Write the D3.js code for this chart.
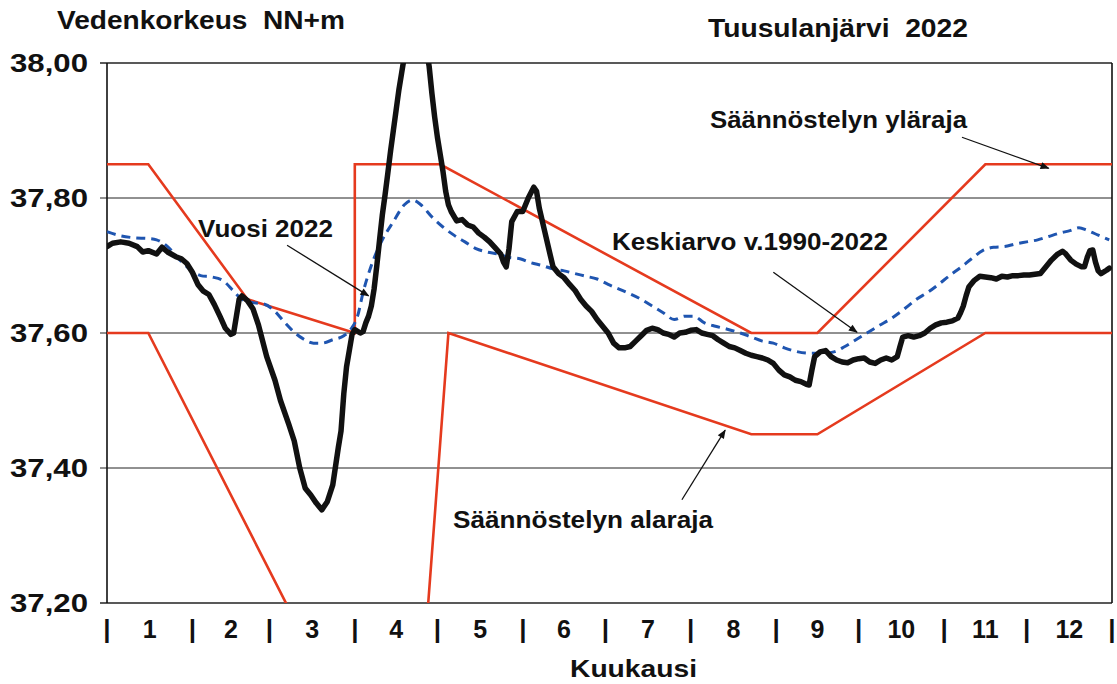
<!DOCTYPE html>
<html><head><meta charset="utf-8">
<script src="https://cdn.jsdelivr.net/npm/d3@7"></script>
<style>
body{margin:0;background:#fff}
svg{display:block}
text{font-family:"Liberation Sans",Arial,sans-serif;font-weight:bold;fill:#111;white-space:pre}
</style>
</head><body>
<svg id="c" width="1117" height="684"></svg>
<script>
// ---------------- data ----------------
const monthLabels = ["1","2","3","4","5","6","7","8","9","10","11","12"];
const monthStartDays = [0,31,59,90,120,151,181,212,243,273,304,334,365];
const yTicks = [38.00, 37.80, 37.60, 37.40, 37.20];

// regulation limits [day of year, NN+m]
const upperLimit = [[0,37.85],[15,37.85],[51,37.65],[90,37.60],[90,37.85],[121,37.85],[234,37.60],[258,37.60],[319,37.85],[365,37.85]];
const lowerLimit = [[0,37.60],[15,37.60],[90,37.00],[113,37.00],[124,37.60],[234,37.45],[258,37.45],[319,37.60],[365,37.60]];

// long-term mean 1990-2022
const mean19902022 = [[0,37.750],[5,37.744],[10,37.741],[15,37.740],[18,37.738],[22,37.728],[26,37.710],[30,37.695],[34,37.685],[38,37.683],[42,37.678],[46,37.662],[49,37.650],[53,37.645],[57,37.643],[61,37.632],[64,37.618],[67,37.605],[71,37.592],[75,37.585],[78,37.585],[82,37.590],[86,37.596],[89,37.608],[91,37.625],[93,37.660],[96,37.700],[100,37.738],[104,37.765],[108,37.790],[111,37.797],[114,37.790],[118,37.772],[122,37.757],[126,37.745],[130,37.735],[134,37.725],[138,37.720],[142,37.717],[146,37.712],[150,37.710],[154,37.704],[158,37.700],[162,37.695],[166,37.692],[170,37.688],[174,37.684],[178,37.680],[182,37.672],[186,37.665],[190,37.658],[194,37.650],[198,37.640],[202,37.630],[206,37.620],[210,37.625],[213,37.625],[217,37.615],[221,37.610],[225,37.606],[230,37.600],[234,37.594],[238,37.588],[242,37.585],[246,37.578],[250,37.573],[255,37.570],[260,37.570],[264,37.572],[268,37.580],[272,37.590],[276,37.600],[280,37.610],[285,37.622],[290,37.637],[294,37.650],[298,37.660],[302,37.672],[306,37.685],[310,37.697],[314,37.710],[318,37.722],[322,37.727],[326,37.728],[330,37.732],[334,37.735],[338,37.738],[342,37.743],[346,37.748],[350,37.752],[353,37.756],[356,37.752],[360,37.745],[364,37.738]];

// year 2022
const year2022 = [[0,37.728],[2,37.733],[5,37.735],[8,37.733],[11,37.728],[13,37.720],[15,37.722],[18,37.717],[20,37.727],[22,37.720],[25,37.713],[27,37.710],[29,37.703],[31,37.690],[33,37.672],[35,37.662],[37,37.657],[39,37.642],[41,37.625],[43,37.607],[45,37.598],[46,37.600],[47,37.625],[48,37.650],[49,37.655],[51,37.648],[53,37.636],[55,37.612],[58,37.565],[61,37.530],[63,37.500],[66,37.465],[68,37.440],[70,37.400],[72,37.370],[74,37.360],[76,37.348],[78,37.338],[80,37.350],[82,37.375],[84,37.430],[85,37.455],[86,37.510],[87,37.550],[89,37.598],[90,37.605],[92,37.600],[93,37.602],[94,37.615],[95,37.625],[96,37.640],[97,37.665],[98,37.700],[99,37.738],[100,37.775],[101,37.805],[102,37.837],[103,37.870],[104,37.900],[105,37.930],[106,37.960],[107,37.985],[108,38.010],[110,38.050],[113,38.070],[115,38.050],[116,38.020],[117,37.995],[118,37.955],[119,37.920],[120,37.890],[121,37.865],[122,37.840],[123,37.810],[124,37.790],[125,37.780],[127,37.766],[129,37.768],[131,37.760],[133,37.757],[135,37.748],[137,37.742],[139,37.735],[141,37.726],[143,37.717],[144,37.705],[145,37.698],[146,37.725],[147,37.765],[149,37.780],[151,37.780],[153,37.800],[155,37.816],[156,37.810],[157,37.785],[159,37.750],[161,37.715],[162,37.698],[164,37.688],[166,37.682],[168,37.672],[170,37.663],[172,37.650],[174,37.640],[176,37.632],[178,37.620],[180,37.610],[182,37.600],[184,37.585],[186,37.578],[188,37.578],[190,37.580],[192,37.588],[194,37.596],[196,37.604],[198,37.607],[200,37.605],[202,37.600],[204,37.598],[206,37.594],[208,37.600],[210,37.601],[212,37.604],[214,37.605],[216,37.600],[218,37.598],[220,37.596],[222,37.590],[224,37.585],[226,37.580],[228,37.578],[230,37.574],[232,37.570],[234,37.567],[236,37.565],[238,37.563],[240,37.560],[242,37.555],[244,37.545],[246,37.538],[248,37.535],[250,37.530],[252,37.528],[254,37.524],[255,37.523],[256,37.545],[257,37.565],[259,37.572],[261,37.574],[263,37.565],[265,37.560],[267,37.557],[269,37.556],[271,37.560],[273,37.562],[275,37.563],[277,37.557],[279,37.555],[281,37.560],[283,37.563],[285,37.560],[287,37.565],[288,37.580],[289,37.594],[291,37.596],[293,37.594],[295,37.596],[297,37.600],[299,37.607],[301,37.612],[303,37.615],[305,37.616],[307,37.618],[309,37.622],[310,37.630],[311,37.640],[312,37.655],[313,37.668],[315,37.678],[317,37.684],[319,37.683],[321,37.682],[323,37.680],[325,37.684],[327,37.683],[329,37.685],[331,37.685],[333,37.686],[335,37.686],[337,37.687],[339,37.688],[341,37.698],[343,37.708],[345,37.716],[347,37.721],[348,37.718],[350,37.708],[352,37.702],[354,37.698],[355,37.698],[356,37.712],[357,37.722],[358,37.723],[359,37.705],[360,37.692],[361,37.688],[363,37.693],[364,37.696]];

// annotations: text, arrow from [day,value] to [day,value]
const annotations = [
  {text:"Vuosi 2022", tx:198, ty:237, tw:135, from:[65.4,37.730], to:[95,37.655]},
  {text:"Keskiarvo v.1990-2022", tx:612, ty:250, tw:276, from:[242,37.690], to:[272.4,37.601]},
  {text:"Säännöstelyn yläraja", tx:710, ty:128, tw:257, from:[310.5,37.890], to:[342,37.844]},
  {text:"Säännöstelyn alaraja", tx:453, ty:528, tw:260, from:[208.8,37.353], to:[224.5,37.456]}
];

// ---------------- chart ----------------
const svg = d3.select("#c");
const L = 107, R = 1112, T = 63, B = 603;
const x = d3.scaleLinear().domain([0,365]).range([L,R]);
const y = d3.scaleLinear().domain([37.2,38.0]).range([B,T]);

const defs = svg.append("defs");
defs.append("clipPath").attr("id","plot").append("rect")
  .attr("x",L).attr("y",T).attr("width",R-L).attr("height",B-T);
defs.append("marker").attr("id","arr").attr("viewBox","0 0 10 10")
  .attr("refX",9).attr("refY",5).attr("markerWidth",13).attr("markerHeight",9)
  .attr("markerUnits","userSpaceOnUse").attr("orient","auto")
  .append("path").attr("d","M0,1 L10,5 L0,9 z").attr("fill","#111");

// gridlines
svg.append("g").selectAll("line").data(yTicks).join("line")
  .attr("x1",L-7).attr("x2",R).attr("y1",d=>y(d)).attr("y2",d=>y(d))
  .attr("stroke","#222").attr("stroke-width",d=>(d===38||d===37.2)?1.6:1);
// frame verticals
svg.append("line").attr("x1",L).attr("x2",L).attr("y1",T).attr("y2",B).attr("stroke","#111").attr("stroke-width",1.6);
svg.append("line").attr("x1",R).attr("x2",R).attr("y1",T).attr("y2",B).attr("stroke","#111").attr("stroke-width",1.6);

// y labels
const fmt = v => d3.format(".2f")(v).replace(".",",");
svg.append("g").selectAll("text").data(yTicks).join("text")
  .attr("x",10).attr("y",d=>y(d)+9).attr("text-anchor","start")
  .attr("font-size",26).attr("textLength",78).attr("lengthAdjust","spacingAndGlyphs").text(fmt);

// month separators and labels
svg.append("g").selectAll("text").data(monthStartDays).join("text")
  .attr("x",d=>x(d)).attr("y",638).attr("text-anchor","middle")
  .attr("font-size",26).text("|");
svg.append("g").selectAll("text").data(monthLabels).join("text")
  .attr("x",(d,i)=>x((monthStartDays[i]+monthStartDays[i+1])/2)).attr("y",638)
  .attr("text-anchor","middle").attr("font-size",25).text(d=>d);

// titles
svg.append("text").attr("x",57).attr("y",29).attr("font-size",25)
  .attr("textLength",288).attr("lengthAdjust","spacingAndGlyphs").text("Vedenkorkeus\u00A0\u00A0NN+m");
svg.append("text").attr("x",708).attr("y",37).attr("font-size",25)
  .attr("textLength",260).attr("lengthAdjust","spacingAndGlyphs").text("Tuusulanjärvi\u00A0\u00A02022");
svg.append("text").attr("x",570).attr("y",677).attr("font-size",24)
  .attr("textLength",127).attr("lengthAdjust","spacingAndGlyphs").text("Kuukausi");

// series
const line = d3.line().x(d=>x(d[0])).y(d=>y(d[1]));
const g = svg.append("g").attr("clip-path","url(#plot)");
g.append("path").datum(upperLimit).attr("d",line).attr("fill","none")
  .attr("stroke","#e53a1e").attr("stroke-width",2.6);
g.append("path").datum(lowerLimit).attr("d",line).attr("fill","none")
  .attr("stroke","#e53a1e").attr("stroke-width",2.6);
g.append("path").datum(mean19902022).attr("d",d3.line().x(d=>x(d[0])).y(d=>y(d[1])).curve(d3.curveMonotoneX)).attr("fill","none")
  .attr("stroke","#1f55b0").attr("stroke-width",3).attr("stroke-dasharray","9,6");
g.append("path").datum(year2022).attr("d",line).attr("fill","none")
  .attr("stroke","#111").attr("stroke-width",5.5).attr("stroke-linejoin","round").attr("stroke-linecap","round");

// annotations
const ag = svg.append("g");
annotations.forEach(a=>{
  ag.append("line").attr("x1",x(a.from[0])).attr("y1",y(a.from[1]))
    .attr("x2",x(a.to[0])).attr("y2",y(a.to[1]))
    .attr("stroke","#111").attr("stroke-width",1.3).attr("marker-end","url(#arr)");
  ag.append("text").attr("x",a.tx).attr("y",a.ty).attr("font-size",24)
    .attr("textLength",a.tw).attr("lengthAdjust","spacingAndGlyphs").text(a.text);
});
</script>
</body></html>
